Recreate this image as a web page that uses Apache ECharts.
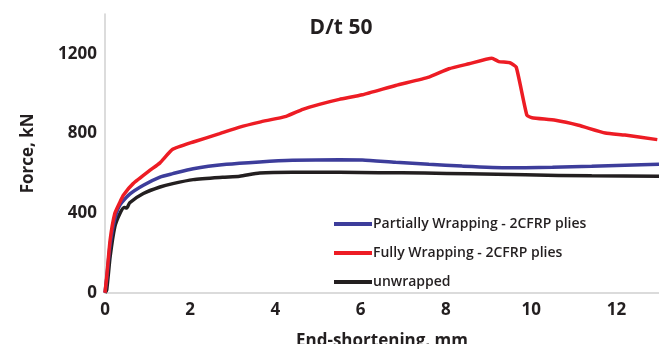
<!DOCTYPE html>
<html>
<head>
<meta charset="utf-8">
<script src="https://cdn.jsdelivr.net/npm/echarts@6/dist/echarts.min.js"></script>
<style>html,body{margin:0;padding:0;background:#fff;}#c{width:659px;height:344px;}</style>
</head>
<body>
<div id="c"></div>
<script>
var titleText = 'D/t 50';
var seriesNames = ['Partially Wrapping - 2CFRP plies', 'Fully Wrapping - 2CFRP plies', 'unwrapped'];
var partialX = [0, 0.04, 0.12, 0.23, 0.35, 0.58, 0.9, 1.29, 1.59, 2.07, 2.85, 3.63, 4.4, 5.5, 6.04, 6.82, 7.6, 8.38, 9.47, 9.86, 10.5, 11.42, 12.2, 13];
var partialY = [0, 70, 240, 370, 440, 495, 540, 581, 598, 623, 645, 657, 665, 668, 667, 655, 645, 636, 628, 628, 630, 635, 640, 645];
var fullX = [0, 0.04, 0.12, 0.23, 0.35, 0.43, 0.66, 1.05, 1.29, 1.58, 2.07, 2.69, 3.16, 3.63, 4.25, 4.64, 5.03, 5.5, 6.04, 6.82, 7.6, 8.07, 8.54, 9.08, 9.24, 9.5, 9.65, 9.9, 10.02, 10.57, 11.11, 11.74, 12.2, 12.96];
var fullY = [0, 80, 264, 398, 455, 490, 548, 614, 652, 719, 757, 799, 832, 857, 886, 921, 946, 971, 994, 1041, 1083, 1125, 1150, 1178, 1161, 1155, 1133, 891, 879, 866, 841, 802, 792, 769];
var unwrappedX = [0, 0.04, 0.12, 0.23, 0.35, 0.45, 0.51, 0.58, 0.9, 1.29, 1.59, 2.07, 2.76, 3.16, 3.63, 4.4, 5.5, 6.43, 7.5, 8.54, 9.86, 11.42, 13];
var unwrappedY = [0, 14, 180, 331, 398, 428, 425, 452, 498, 531, 548, 568, 580, 585, 601, 605, 605, 603, 601, 597, 592, 587, 585];
var xTicks = [0, 2, 4, 6, 8, 10, 12];
var yTicks = [0, 400, 800, 1200];

function pairs(xs, ys) { return xs.map(function (x, i) { return [x, ys[i]]; }); }

var font = '"Open Sans", "Liberation Sans", sans-serif';
var txt = '#231f20';
var chart = echarts.init(document.getElementById('c'), null, {renderer: 'canvas'});
chart.setOption({
  animation: false,
  backgroundColor: '#ffffff',
  title: {
    text: titleText, left: 336, top: 13, textAlign: 'center',
    textStyle: {fontFamily: font, fontSize: 21, fontWeight: 'bold', color: txt}
  },
  legend: {
    orient: 'vertical', left: 329, top: 211,
    icon: 'rect',
    itemWidth: 38, itemHeight: 4, itemGap: 13,
    data: seriesNames,
    textStyle: {fontFamily: font, fontSize: 14, fontWeight: 600, color: txt, lineHeight: 16, padding: [0, 0, 0, -4]}
  },
  grid: {left: 105, right: 0, top: 14, bottom: 51.3, containLabel: false, outerBoundsMode: 'none'},
  xAxis: {
    type: 'value', min: 0, max: 13, interval: 2,
    name: 'End-shortening, mm', nameLocation: 'middle', nameGap: 40,
    nameTextStyle: {fontFamily: font, fontSize: 17, fontWeight: 'bold', color: txt},
    axisLine: {show: true, lineStyle: {color: '#d0d0d0', width: 1.5}},
    axisTick: {show: false},
    splitLine: {show: false},
    axisLabel: {
      fontFamily: font, fontSize: 17, fontWeight: 'bold', color: txt, margin: 9,
      showMaxLabel: false,
      formatter: function (v) { return xTicks.indexOf(v) >= 0 ? String(v) : ''; }
    }
  },
  yAxis: {
    type: 'value', min: 0, max: 1400, interval: 400,
    name: 'Force, kN', nameLocation: 'middle', nameGap: 68, nameRotate: 90,
    nameTextStyle: {fontFamily: font, fontSize: 17, fontWeight: 'bold', color: txt},
    axisLine: {show: true, lineStyle: {color: '#d0d0d0', width: 1.5}},
    axisTick: {show: false},
    splitLine: {show: false},
    axisLabel: {
      fontFamily: font, fontSize: 17, fontWeight: 'bold', color: txt, margin: 8,
      showMaxLabel: false,
      formatter: function (v) { return yTicks.indexOf(v) >= 0 ? String(v) : ''; }
    }
  },
  series: [
    {name: seriesNames[0], type: 'line', data: pairs(partialX, partialY), symbol: 'none', smooth: 0.2,
     lineStyle: {color: '#3d3d9b', width: 3.5}, itemStyle: {color: '#3d3d9b'}, z: 3},
    {name: seriesNames[1], type: 'line', data: pairs(fullX, fullY), symbol: 'none', smooth: 0.15,
     lineStyle: {color: '#ed1c24', width: 3.5}, itemStyle: {color: '#ed1c24'}, z: 4},
    {name: seriesNames[2], type: 'line', data: pairs(unwrappedX, unwrappedY), symbol: 'none', smooth: 0.2,
     lineStyle: {color: '#231f20', width: 3.5}, itemStyle: {color: '#231f20'}, z: 2}
  ]
});
</script>
</body>
</html>
